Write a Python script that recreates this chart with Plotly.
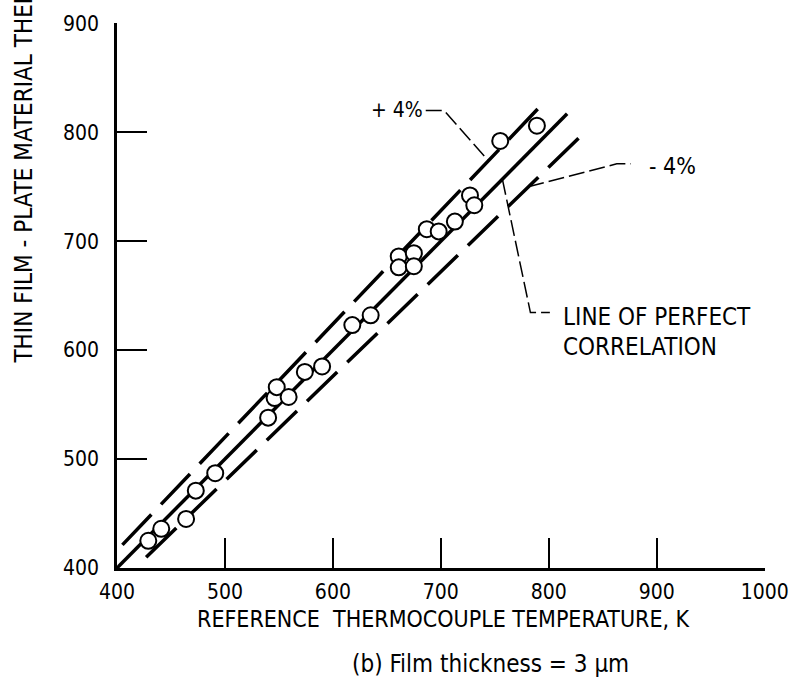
import plotly.graph_objects as go

# ---- data ----
ref_temp = [429, 441, 464, 473, 491, 540, 546, 548, 559, 574, 590, 618,
            635, 661, 661, 675, 675, 687, 698, 713, 727, 731, 755, 789]
film_temp = [425, 436, 445, 471, 487, 538, 556, 566, 557, 580, 585, 623,
             632, 686, 676, 689, 677, 711, 709, 718, 742, 733, 792, 806]

perfect_x = [400, 817]
plus_x = [405, 795]
minus_x = [427, 835]
plus_factor = 1.04
minus_factor = 0.96

x_ticks = [400, 500, 600, 700, 800, 900, 1000]
y_ticks = [400, 500, 600, 700, 800, 900]

plus_leader_x = [686, 703, 744]
plus_leader_y = [820, 820, 774]
minus_leader_x = [781, 863, 876]
minus_leader_y = [750, 771, 771]
perfect_leader_x = [757, 783, 801]
perfect_leader_y = [757, 634.5, 634.5]

x_title = "REFERENCE  THERMOCOUPLE TEMPERATURE, K"
y_title = "THIN FILM - PLATE MATERIAL THERMOCOUPLE TEMPERATURE, K"
caption = "(b) Film thickness = 3 µm"

FONT = "DejaVu Sans Condensed, Liberation Sans Narrow, Arial Narrow, sans-serif"
CAP_FONT = "DejaVu Sans Condensed, Liberation Sans, sans-serif"

fig = go.Figure()

# reference lines
fig.add_trace(go.Scatter(x=perfect_x, y=perfect_x, mode="lines",
                         line=dict(color="black", width=3.5), showlegend=False))
fig.add_trace(go.Scatter(x=plus_x, y=[v * plus_factor for v in plus_x], mode="lines",
                         line=dict(color="black", width=3.5, dash="42px,14px"),
                         showlegend=False))
fig.add_trace(go.Scatter(x=minus_x, y=[v * minus_factor for v in minus_x], mode="lines",
                         line=dict(color="black", width=3.5, dash="42px,14px"),
                         showlegend=False))

# leader lines
for lx, ly in [(plus_leader_x, plus_leader_y), (minus_leader_x, minus_leader_y),
               (perfect_leader_x, perfect_leader_y)]:
    fig.add_trace(go.Scatter(x=lx, y=ly, mode="lines",
                             line=dict(color="black", width=1.5, dash="16px,5px"),
                             showlegend=False))

# data points
fig.add_trace(go.Scatter(x=ref_temp, y=film_temp, mode="markers",
                         marker=dict(symbol="circle", size=16, color="white",
                                     line=dict(color="black", width=2)),
                         showlegend=False))

def afont(size):
    return dict(family=FONT, size=size, color="black")

annotations = [
    dict(x=685, y=820, xref="x", yref="y", text="+ 4%", showarrow=False,
         xanchor="right", yanchor="middle", font=afont(21)),
    dict(x=891, y=769, xref="x", yref="y", text="- 4%", showarrow=False,
         xanchor="left", yanchor="middle", font=afont(23)),
    dict(x=811, y=630, xref="x", yref="y", text="LINE OF PERFECT", showarrow=False,
         xanchor="left", yanchor="middle", font=afont(24)),
    dict(x=811, y=603, xref="x", yref="y", text="CORRELATION", showarrow=False,
         xanchor="left", yanchor="middle", font=afont(24)),
    dict(x=702, y=-0.094, xref="x", yref="paper", text=x_title, showarrow=False,
         xanchor="center", yanchor="middle", font=afont(23)),
    dict(x=746, y=-0.177, xref="x", yref="paper", text=caption, showarrow=False,
         xanchor="center", yanchor="middle",
         font=dict(family=CAP_FONT, size=24, color="black")),
    dict(x=-0.144, y=586, xref="paper", yref="y", text=y_title, showarrow=False,
         xanchor="center", yanchor="bottom", textangle=-90, font=afont(24)),
]

axis_common = dict(showgrid=False, zeroline=False, showline=True, linecolor="black",
                   linewidth=2.5, ticks="inside", ticklen=30, tickwidth=2,
                   tickcolor="black",
                   tickfont=dict(family=FONT, size=21, color="black"))

fig.update_layout(
    width=801, height=681,
    margin=dict(l=117, r=26, t=18, b=113),
    paper_bgcolor="white", plot_bgcolor="white",
    showlegend=False,
    annotations=annotations,
    xaxis=dict(range=[400, 1000.3], tickvals=x_ticks, ticklabelstandoff=3,
               ticklabeloverflow="allow", **axis_common),
    yaxis=dict(range=[400, 900.3], tickvals=y_ticks, ticklabelstandoff=11,
               **axis_common),
)

fig.write_html("out.html")
